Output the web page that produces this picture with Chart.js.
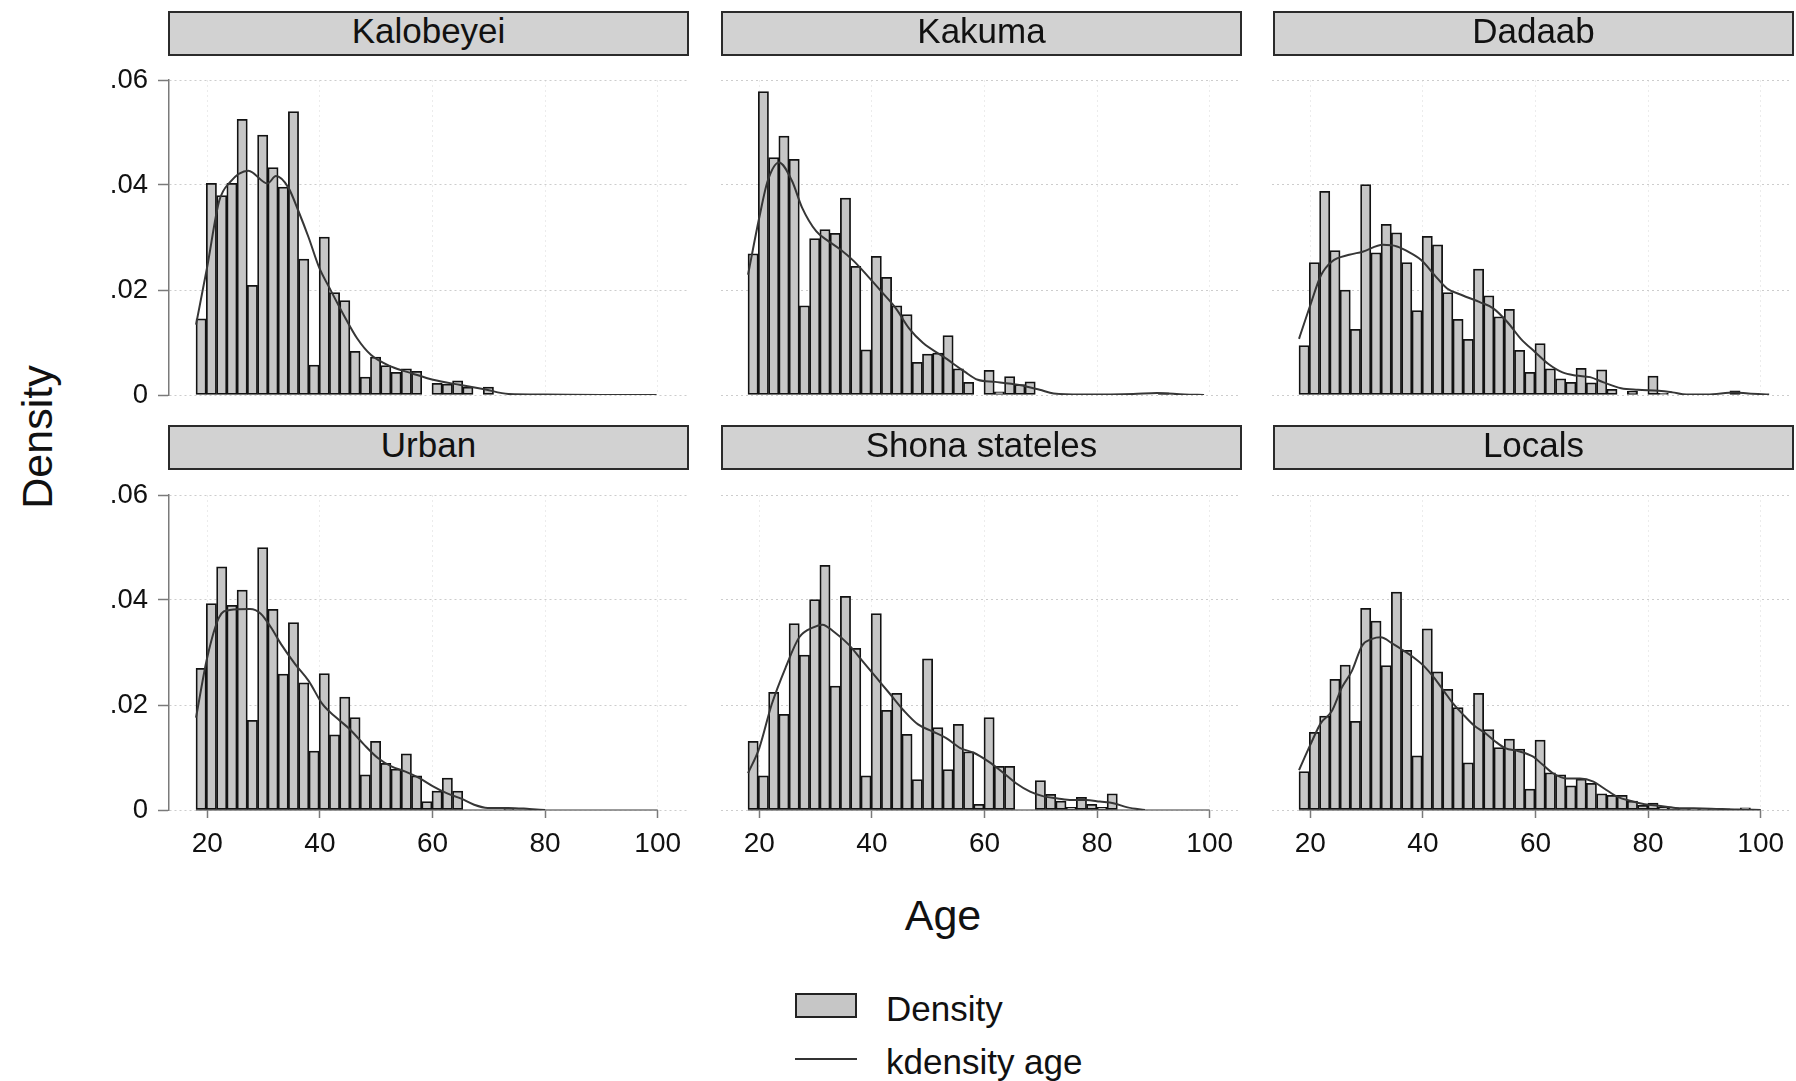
<!DOCTYPE html>
<html>
<head>
<meta charset="utf-8">
<title>Age density by group</title>
<script src="https://cdn.jsdelivr.net/npm/chart.js@4.4.1/dist/chart.umd.min.js"></script>
<style>
  html, body { margin: 0; padding: 0; background: #ffffff; }
  body {
    width: 1796px; height: 1081px; position: relative; overflow: hidden;
    font-family: "Liberation Sans", Arial, Helvetica, sans-serif; color: #141414;
  }
  .panel-title {
    position: absolute; box-sizing: border-box; z-index: 2;
    border: 2px solid #2b2b2b; background: #d2d2d2;
    text-align: center; font-size: 35px; line-height: 36px; color: #111;
  }
  .panel-canvas { position: absolute; z-index: 1; }
  .axis-title { position: absolute; font-size: 43px; line-height: 50px; text-align: center; color: #111; }
  .legend-text { position: absolute; font-size: 35px; line-height: 35px; color: #111; white-space: nowrap; }
</style>
</head>
<body>
<div class="axis-title" id="ytitle" style="left:-113px; top:412px; width:300px; transform:rotate(-90deg);">Density</div>
<div class="axis-title" id="xtitle" style="left:793px; top:890px; width:300px;">Age</div>

<div style="position:absolute; left:795px; top:993px; width:62px; height:25px; box-sizing:border-box; border:2px solid #222; background:#c6c6c6;"></div>
<div class="legend-text" style="left:886px; top:991px;">Density</div>
<div style="position:absolute; left:795px; top:1058px; width:62px; height:2px; background:#333;"></div>
<div class="legend-text" style="left:886px; top:1044px;">kdensity age</div>

<script>
// Histogram bins: 45 bins of equal width from age 18 to 100 (bin midpoints)
const AGE_BINS = [18.91, 20.73, 22.56, 24.38, 26.20, 28.02, 29.84, 31.67, 33.49, 35.31,
                  37.13, 38.96, 40.78, 42.60, 44.42, 46.24, 48.07, 49.89, 51.71, 53.53,
                  55.36, 57.18, 59.00, 60.82, 62.64, 64.47, 66.29, 68.11, 69.93, 71.76,
                  73.58, 75.40, 77.22, 79.04, 80.87, 82.69, 84.51, 86.33, 88.16, 89.98,
                  91.80, 93.62, 95.44, 97.27, 99.09];
const AGE_AXIS_FROM = 18;
const AGE_AXIS_TO = 100;
const AGE_TICKS = [20, 40, 60, 80, 100];
const DENSITY_TICKS = [0, 0.02, 0.04, 0.06];

const GROUPS = ['Kalobeyei', 'Kakuma', 'Dadaab', 'Urban', 'Shona stateles', 'Locals'];

// Histogram densities per bin
const KALOBEYEI_DENSITY = [0.0145, 0.0403, 0.0380, 0.0403, 0.0525, 0.0209, 0.0495, 0.0433, 0.0396, 0.0540,
                           0.0259, 0.0057, 0.0301, 0.0195, 0.0180, 0.0083, 0.0034, 0.0072, 0.0056, 0.0043,
                           0.0050, 0.0045, 0, 0.0022, 0.0021, 0.0027, 0.0015, 0, 0.0015, 0,
                           0, 0, 0, 0, 0, 0, 0, 0, 0, 0,
                           0, 0, 0, 0, 0];
const KAKUMA_DENSITY = [0.0269, 0.0578, 0.0452, 0.0493, 0.0449, 0.0170, 0.0298, 0.0315, 0.0308, 0.0375,
                        0.0245, 0.0086, 0.0264, 0.0224, 0.0170, 0.0153, 0.0062, 0.0078, 0.0080, 0.0113,
                        0.0050, 0.0024, 0, 0.0047, 0.0006, 0.0035, 0.0020, 0.0025, 0, 0,
                        0, 0, 0, 0, 0, 0, 0, 0, 0, 0,
                        0.0004, 0, 0, 0, 0];
const DADAAB_DENSITY = [0.0094, 0.0252, 0.0388, 0.0275, 0.0200, 0.0125, 0.0401, 0.0271, 0.0325, 0.0309,
                        0.0252, 0.0161, 0.0302, 0.0286, 0.0195, 0.0144, 0.0106, 0.0240, 0.0189, 0.0149,
                        0.0163, 0.0085, 0.0043, 0.0098, 0.0050, 0.0031, 0.0024, 0.0051, 0.0023, 0.0048,
                        0.0011, 0, 0.0007, 0, 0.0036, 0.0003, 0, 0, 0, 0,
                        0, 0, 0.0008, 0, 0];
const URBAN_DENSITY = [0.0270, 0.0393, 0.0463, 0.0390, 0.0419, 0.0171, 0.0500, 0.0382, 0.0259, 0.0357,
                       0.0242, 0.0112, 0.0260, 0.0143, 0.0215, 0.0176, 0.0067, 0.0131, 0.0089, 0.0078,
                       0.0107, 0.0065, 0.0016, 0.0036, 0.0061, 0.0036, 0, 0, 0, 0,
                       0.0003, 0, 0, 0, 0, 0, 0, 0, 0, 0,
                       0, 0, 0, 0, 0];
const SHONA_DENSITY = [0.0131, 0.0065, 0.0224, 0.0182, 0.0355, 0.0295, 0.0401, 0.0466, 0.0236, 0.0407,
                       0.0308, 0.0065, 0.0374, 0.0190, 0.0222, 0.0144, 0.0058, 0.0288, 0.0157, 0.0077,
                       0.0163, 0.0111, 0.0011, 0.0176, 0.0083, 0.0083, 0, 0, 0.0056, 0.0030,
                       0.0017, 0.0005, 0.0024, 0.0011, 0.0005, 0.0031, 0, 0, 0, 0,
                       0, 0, 0, 0, 0];
const LOCALS_DENSITY = [0.0073, 0.0148, 0.0179, 0.0249, 0.0276, 0.0169, 0.0384, 0.0360, 0.0275, 0.0415,
                        0.0304, 0.0103, 0.0345, 0.0263, 0.0230, 0.0195, 0.0090, 0.0222, 0.0153, 0.0119,
                        0.0135, 0.0116, 0.0040, 0.0133, 0.0071, 0.0067, 0.0046, 0.0059, 0.0051, 0.0031,
                        0.0028, 0.0028, 0.0017, 0.0009, 0.0013, 0.0005, 0.0004, 0.0003, 0.0002, 0.0002,
                        0.0001, 0.0002, 0.0001, 0.0004, 0];

// Kernel density curves (age, density)
const KALOBEYEI_KDE_AGE = [18, 20, 22.1, 24, 27.3, 30.7, 32.2, 34.4, 36.2, 38, 39.9, 41.7, 44.2, 46.6, 49.1, 52.7, 56.4, 60.1, 65, 69.2, 73.5, 80, 90, 99.8];
const KALOBEYEI_KDE = [0.0134, 0.0245, 0.0369, 0.0405, 0.0427, 0.0403, 0.0417, 0.0395, 0.0350, 0.0300, 0.0242, 0.0204, 0.0153, 0.0108, 0.0076, 0.0054, 0.0041, 0.0029, 0.0019, 0.0011, 0.0002, 0.0001, 0, 0];

const KAKUMA_KDE_AGE = [18, 20, 21.5, 23.5, 25.8, 27.6, 30.1, 31.9, 34.4, 36.8, 39.3, 41.7, 44.2, 46.6, 49.1, 52.7, 56.4, 58.8, 61.9, 66.2, 69.8, 72.3, 77.2, 86.4, 90.6, 95.5, 99];
const KAKUMA_KDE = [0.0229, 0.0338, 0.0408, 0.0443, 0.0408, 0.0357, 0.0312, 0.0296, 0.0277, 0.0255, 0.0226, 0.0197, 0.0166, 0.0127, 0.0099, 0.0073, 0.0045, 0.0029, 0.0025, 0.0019, 0.0010, 0.0003, 0.0001, 0.0002, 0.0004, 0.0001, 0];

const DADAAB_KDE_AGE = [18, 20, 21.9, 23.8, 26.9, 29.3, 32.9, 35.4, 37.2, 39.7, 42.1, 44.3, 47, 50.1, 52.5, 55, 57.4, 59.9, 62.3, 64.8, 67.2, 69.7, 72.1, 75.2, 78.2, 81.9, 84.3, 86.8, 90.5, 95.4, 97.8, 101.5];
const DADAAB_KDE = [0.0107, 0.0171, 0.0228, 0.0254, 0.0267, 0.0273, 0.0286, 0.0283, 0.0274, 0.0257, 0.0228, 0.0203, 0.0190, 0.0177, 0.0165, 0.0139, 0.0107, 0.0082, 0.0059, 0.0043, 0.0037, 0.0034, 0.0024, 0.0013, 0.0010, 0.0008, 0.0005, 0.0001, 0.0001, 0.0005, 0.0003, 0.0001];

const URBAN_KDE_AGE = [18, 20, 22.1, 24, 27.6, 29.5, 31.3, 33.1, 35.6, 38, 40.5, 42.9, 45.4, 47.8, 50.3, 52.7, 55.2, 57.6, 60.1, 62.5, 65, 67.4, 69.8, 73.5, 77.2, 80];
const URBAN_KDE = [0.0176, 0.0291, 0.0367, 0.0381, 0.0383, 0.0374, 0.0348, 0.0316, 0.0278, 0.0246, 0.0201, 0.0176, 0.0153, 0.0125, 0.0099, 0.0083, 0.0073, 0.0061, 0.0045, 0.0032, 0.0022, 0.0010, 0.0004, 0.0004, 0.0002, 0];

const SHONA_KDE_AGE = [18, 20, 22.2, 24.7, 27.1, 29.6, 31.2, 33.3, 35.8, 38.3, 40.8, 43.3, 45.7, 48.2, 50.7, 53.2, 55.7, 58.1, 60.6, 63.1, 65.6, 68.1, 70.5, 73, 75.5, 78, 80.5, 82.9, 85.4, 88.5];
const SHONA_KDE = [0.0070, 0.0118, 0.0201, 0.0272, 0.0329, 0.0348, 0.0353, 0.0339, 0.0316, 0.0284, 0.0252, 0.0220, 0.0189, 0.0163, 0.0150, 0.0137, 0.0118, 0.0109, 0.0093, 0.0073, 0.0051, 0.0035, 0.0026, 0.0022, 0.0019, 0.0019, 0.0016, 0.0013, 0.0005, 0];

const LOCALS_KDE_AGE = [18, 20, 21.9, 23.8, 25.6, 27.4, 29.2, 31, 32.5, 34.6, 36.5, 38.3, 40.1, 41.9, 43.7, 45.5, 47.4, 49.2, 51, 52.8, 54.6, 57, 59.5, 61.3, 63.1, 65.5, 67.9, 70.3, 72.2, 74.6, 77, 79.4, 81.8, 84.9, 89.7, 95.8, 100];
const LOCALS_KDE = [0.0076, 0.0124, 0.0166, 0.0188, 0.0233, 0.0265, 0.0313, 0.0326, 0.0329, 0.0317, 0.0304, 0.0291, 0.0275, 0.0253, 0.0227, 0.0201, 0.0179, 0.0160, 0.0147, 0.0131, 0.0118, 0.0112, 0.0102, 0.0086, 0.0070, 0.0060, 0.0060, 0.0054, 0.0041, 0.0025, 0.0017, 0.0011, 0.0008, 0.0004, 0.0003, 0.0001, 0];

const PANEL_DATA = [
  { density: KALOBEYEI_DENSITY, kdeAge: KALOBEYEI_KDE_AGE, kde: KALOBEYEI_KDE },
  { density: KAKUMA_DENSITY,    kdeAge: KAKUMA_KDE_AGE,    kde: KAKUMA_KDE },
  { density: DADAAB_DENSITY,    kdeAge: DADAAB_KDE_AGE,    kde: DADAAB_KDE },
  { density: URBAN_DENSITY,     kdeAge: URBAN_KDE_AGE,     kde: URBAN_KDE },
  { density: SHONA_DENSITY,     kdeAge: SHONA_KDE_AGE,     kde: SHONA_KDE },
  { density: LOCALS_DENSITY,    kdeAge: LOCALS_KDE_AGE,    kde: LOCALS_KDE }
];

// Page layout (pixels)
const COL_LEFT = [169, 721, 1272];   // left edge of each plot area (y axis line)
const HEAD_LEFT = [168, 721, 1273];  // left edge of each strip header
const ROW_TOP = [80, 495];           // top edge (density .06) of each plot area
const HEAD_TOP = [11, 425];
const AREA_W = 520, AREA_H = 315;
const PAD_TOP = 34, PAD_RIGHT = 24, Y_AXIS_W = 110, X_AXIS_H = 70;
const X_MIN = 13.2, X_MAX = 105.56;

const FONT = '"Liberation Sans", Arial, Helvetica, sans-serif';
const AXIS_GREY = '#7a7a7a';

Chart.defaults.font.family = FONT;

// Stata-style x axis line running only across the age range of the data
const ageAxisLine = {
  id: 'ageAxisLine',
  beforeDatasetsDraw(chart, args, opts) {
    if (!opts.show) return;
    const xs = chart.scales.x, ys = chart.scales.y, ctx = chart.ctx;
    const y0 = ys.getPixelForValue(0);
    ctx.save();
    ctx.strokeStyle = AXIS_GREY;
    ctx.lineWidth = 1.5;
    ctx.beginPath();
    ctx.moveTo(xs.getPixelForValue(AGE_AXIS_FROM), y0);
    ctx.lineTo(xs.getPixelForValue(AGE_AXIS_TO), y0);
    ctx.stroke();
    ctx.restore();
  }
};

function densityLabel(v) {
  if (v === 0) return '0';
  return v.toFixed(2).replace(/^0/, '');
}

GROUPS.forEach((name, idx) => {
  const col = idx % 3, row = Math.floor(idx / 3);
  const isLeft = col === 0, isBottom = row === 1;
  const areaLeft = COL_LEFT[col], areaTop = ROW_TOP[row];

  const head = document.createElement('div');
  head.className = 'panel-title';
  head.textContent = name;
  head.style.left = HEAD_LEFT[col] + 'px';
  head.style.top = HEAD_TOP[row] + 'px';
  head.style.width = '521px';
  head.style.height = '45px';
  document.body.appendChild(head);

  const canvas = document.createElement('canvas');
  canvas.className = 'panel-canvas';
  const cw = Y_AXIS_W + AREA_W + PAD_RIGHT, ch = PAD_TOP + AREA_H + X_AXIS_H;
  canvas.width = cw; canvas.height = ch;
  canvas.style.width = cw + 'px'; canvas.style.height = ch + 'px';
  canvas.style.left = (areaLeft - Y_AXIS_W) + 'px';
  canvas.style.top = (areaTop - PAD_TOP) + 'px';
  document.body.appendChild(canvas);

  const d = PANEL_DATA[idx];
  const bars = AGE_BINS.map((a, i) => ({ x: a, y: d.density[i] }));
  const curve = d.kdeAge.map((a, i) => ({ x: a, y: d.kde[i] }));

  new Chart(canvas, {
    data: {
      datasets: [
        {
          type: 'line', label: 'kdensity age', data: curve, order: 0,
          borderColor: '#363636', borderWidth: 2, pointRadius: 0,
          cubicInterpolationMode: 'monotone', fill: false
        },
        {
          type: 'bar', label: 'Density', data: bars, order: 1,
          backgroundColor: '#c6c6c6', borderColor: '#121212', borderWidth: 1.75,
          borderSkipped: false, barPercentage: 1, categoryPercentage: 1
        }
      ]
    },
    options: {
      responsive: false, animation: false, devicePixelRatio: 1,
      layout: { padding: { top: PAD_TOP, right: PAD_RIGHT, left: 0, bottom: 0 } },
      plugins: { legend: { display: false }, tooltip: { enabled: false }, ageAxisLine: { show: isBottom } },
      scales: {
        x: {
          type: 'linear', min: X_MIN, max: X_MAX, offset: false,
          afterBuildTicks: s => { s.ticks = AGE_TICKS.map(v => ({ value: v })); },
          afterFit: s => { s.height = X_AXIS_H; },
          ticks: { display: isBottom, autoSkip: false, maxRotation: 0, padding: 9,
                   color: '#111', font: { size: 28, family: FONT } },
          grid: { offset: false, color: '#ececec', lineWidth: 1, drawTicks: isBottom, tickLength: 8,
                  tickColor: AXIS_GREY, tickWidth: 1.5, tickBorderDash: [] },
          border: { display: false, dash: [2, 3] }
        },
        y: {
          type: 'linear', min: 0, max: 0.06,
          afterBuildTicks: s => { s.ticks = DENSITY_TICKS.map(v => ({ value: v })); },
          afterFit: s => { s.width = Y_AXIS_W; },
          ticks: { display: isLeft, padding: 10, color: '#111', font: { size: 27.5, family: FONT },
                   callback: v => densityLabel(v) },
          grid: { color: '#cdcdcd', lineWidth: 1, drawTicks: isLeft, tickLength: 11,
                  tickColor: AXIS_GREY, tickWidth: 1.5, tickBorderDash: [] },
          border: { display: isLeft, color: AXIS_GREY, width: 1.5, dash: [2, 3] }
        }
      }
    },
    plugins: [ageAxisLine]
  });
});
</script>
</body>
</html>
